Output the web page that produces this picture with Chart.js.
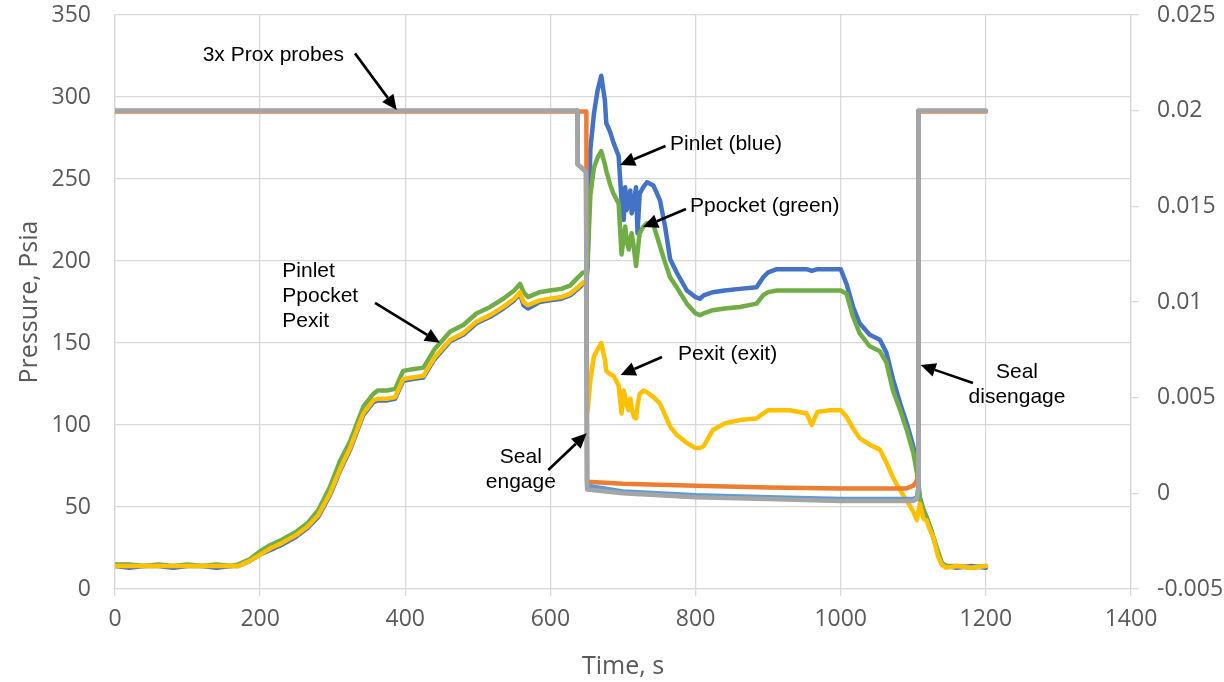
<!DOCTYPE html>
<html>
<head>
<meta charset="utf-8">
<script src="https://cdn.jsdelivr.net/npm/chart.js@4.4.1/dist/chart.umd.min.js"></script>
<style>
html,body{margin:0;padding:0;background:#fff;}
#wrap{width:1224px;height:682px;}
</style>
</head>
<body>
<div id="wrap"><canvas id="c" width="1224" height="682"></canvas></div>
<script>
// ---------- Pressure data (left axis, psia) ----------
const pTime = [0,20,40,60,80,100,120,140,160,170,185,200,215,230,250,265,280,296,310,324,342,356,362,375,386,392,397,410,425,440,462,480,498,517,535,550,558,563,569,585,599,615,627,638,645,649,
651,655,660,665,670,675,677,682,687,694,698,701,703,705,708,710,712,715,718,720,723,728,733,742,751,758,765,774,788,800,806,811,824,840,861,884,893,900,912,930,953,960,968,985,1000,1008,1017,1026,1040,1054,1063,1072,1082,1091,1100,1105,1109,1114,1118,1123,1128,1134,1139,1145,1160,1180,1200];

const pinlet = [14,13,14,14,13,14,14,13,14,14,17,21,24,27,32,37,44,57,72,85,106,114,115,115,116,122,127,128,129,140,151,155,162,166,171,176,180,173,171,175,176,177,179,183,186,186,
195,268,290,304,313,298,284,279,272,264,237,225,245,231,238,243,229,236,245,217,241,245,248,246,237,221,201,193,182,178,177,179,181,182,183,184,190,193,195,195,195,194,195,195,195,186,172,162,155,152,144,128,113,101,87,74,56,48,44,38,31,22,16,14,13,14,13];

const ppocket = [15,15,14,15,14,15,14,15,14,15,18,23,27,30,35,40,48,62,78,90,111,119,121,121,122,128,133,134,135,146,157,161,168,172,177,182,186,181,178,181,182,183,185,190,193,193,
196,240,257,263,267,259,255,247,241,235,204,215,221,212,207,214,217,208,197,205,217,221,223,222,209,199,190,184,174,168,167,168,170,171,172,174,179,181,182,182,182,182,182,182,182,180,166,156,148,145,138,121,109,97,83,71,55,48,44,38,31,23,16,14,14,13,14];

const pexit = [14,14,14,14,14,14,14,14,14,14,17,21,25,28,33,38,45,58,73,86,107,115,116,116,117,123,128,129,130,141,152,156,163,167,172,177,181,175,173,176,177,178,180,184,187,187,
108,127,142,146,150,140,133,131,130,124,107,121,117,112,109,116,110,105,104,112,119,121,120,117,113,106,99,94,89,86,86,87,97,101,103,104,107,109,109,109,107,100,108,109,109,105,98,92,88,85,77,68,60,54,47,42,52,43,42,36,31,20,15,13,14,13,14];

// ---------- Proximity probe data (right axis) ----------
const greyT  = [0,637,637.5,649,650.5,700,800,900,1000,1100,1105,1106.5,1107,1200];
const greyV  = [0.02,0.02,0.0172,0.0168,0.0002,0.0000,-0.0002,-0.0003,-0.0004,-0.0004,-0.0003,0.0001,0.02,0.02];
const lblueT = [0,637,637.5,649,650.5,700,800,900,1000,1100,1105,1106.5,1107,1200];
const lblueV = [0.02,0.02,0.0172,0.0168,0.0004,0.0001,-0.0001,-0.0002,-0.0003,-0.0003,-0.0002,0.0002,0.02,0.02];
const orangeT = [0,649.5,650.5,700,800,900,1000,1090,1100,1104,1106.5,1107,1200];
const orangeV = [0.01995,0.01995,0.0006,0.0005,0.0004,0.0003,0.00025,0.00025,0.0004,0.0006,0.0009,0.01995,0.01995];

// ---------- Axis ticks ----------
const xTicks = {min:0, max:1400, step:200};
const yTicks = {min:0, max:350, step:50};
const y2Ticks = {min:-0.005, max:0.025, step:0.005};

// ---------- Annotations (data units: time, psia) ----------
const annoText  = ["3x Prox probes","Pinlet (blue)","Ppocket (green)","Pexit (exit)","Seal","disengage","Seal","engage","Pinlet","Ppocket","Pexit"];
const annoX     = [120.8,764.8,792.3,775.8,1242.9,1242.9,559.2,559.2,230.5,230.5,230.5];
const annoY     = [322.1,267.7,230.1,139.6,128.8,113.4,76.8,61.6,190.4,175.2,159.6];
const annoAlign = ["left","left","left","left","center","center","center","center","left","left","left"];
const arrowFrom = [[330.7,326.6],[758.5,270.1],[786.7,231.7],[753.7,141.5],[1182.2,125.6],[597,72.6],[358.3,174.4]];
const arrowTo   = [[388.2,292.1],[695.9,258.5],[727.6,220.7],[696.7,130.5],[1110.2,136.6],[650,94.9],[447.8,150.2]];

const toXY = (ts, vs) => ts.map((t, i) => ({x: t, y: vs[i]}));

const annoPlugin = {
  id: 'annos',
  afterDatasetsDraw(chart) {
    const ctx = chart.ctx, xs = chart.scales.x, ys = chart.scales.y;
    ctx.save();
    ctx.fillStyle = '#000';
    ctx.font = '21px "Liberation Sans", Arial, sans-serif';
    ctx.textBaseline = 'alphabetic';
    annoText.forEach((t, i) => {
      ctx.textAlign = annoAlign[i];
      ctx.fillText(t, xs.getPixelForValue(annoX[i]), ys.getPixelForValue(annoY[i]));
    });
    ctx.strokeStyle = '#000';
    ctx.lineWidth = 2.6;
    arrowFrom.forEach((f, i) => {
      const x1 = xs.getPixelForValue(f[0]), y1 = ys.getPixelForValue(f[1]);
      const x2 = xs.getPixelForValue(arrowTo[i][0]), y2 = ys.getPixelForValue(arrowTo[i][1]);
      const a = Math.atan2(y2 - y1, x2 - x1);
      const hl = 15, hw = 7;
      const bx = x2 - hl * Math.cos(a), by = y2 - hl * Math.sin(a);
      ctx.beginPath(); ctx.moveTo(x1, y1); ctx.lineTo(bx, by); ctx.stroke();
      ctx.beginPath();
      ctx.moveTo(x2, y2);
      ctx.lineTo(bx + hw * Math.sin(a), by - hw * Math.cos(a));
      ctx.lineTo(bx - hw * Math.sin(a), by + hw * Math.cos(a));
      ctx.closePath(); ctx.fill();
    });
    ctx.restore();
  }
};

const gridCol = '#d9d9d9', tickCol = '#595959';
const tickFont = {family: '"Open Sans", sans-serif', size: 23};
const titleFont = {family: '"Open Sans", sans-serif', size: 25};

const line = (data, color, axis) => ({
  data, borderColor: color, backgroundColor: color, borderWidth: 4.5,
  pointRadius: 0, tension: 0, fill: false, yAxisID: axis, borderJoinStyle: 'round', borderCapStyle: 'round'
});

const noPad = s => { s.paddingTop = 0; s.paddingBottom = 0; s.paddingLeft = 0; s.paddingRight = 0; };

new Chart(document.getElementById('c'), {
  type: 'line',
  data: {
    datasets: [
      line(toXY(greyT, greyV), '#A5A5A5', 'y2'),
      line(toXY(lblueT, lblueV), '#5B9BD5', 'y2'),
      line(toXY(orangeT, orangeV), '#ED7D31', 'y2'),
      line(toXY(pTime, pexit), '#FFC000', 'y'),
      line(toXY(pTime, ppocket), '#70AD47', 'y'),
      line(toXY(pTime, pinlet), '#4472C4', 'y')
    ]
  },
  options: {
    responsive: false, animation: false, devicePixelRatio: 1,
    layout: {padding: {top: 15, left: 0, right: 0, bottom: 0}},
    plugins: {legend: {display: false}, tooltip: {enabled: false}},
    scales: {
      x: {
        type: 'linear', min: xTicks.min, max: xTicks.max,
        ticks: {stepSize: xTicks.step, color: tickCol, font: tickFont, padding: 10, maxRotation: 0,
          callback: v => String(v)},
        grid: {color: gridCol, lineWidth: 1.3, tickLength: 7, drawTicks: true},
        border: {color: gridCol, width: 1.3},
        title: {display: true, text: 'Time, s', color: tickCol, font: titleFont, padding: {top: 0, bottom: 0}},
        afterFit(s) { s.height = 93; noPad(s); }
      },
      y: {
        position: 'left', min: yTicks.min, max: yTicks.max,
        ticks: {stepSize: yTicks.step, color: tickCol, font: tickFont, padding: 24},
        grid: {color: gridCol, lineWidth: 1.3, drawTicks: false},
        border: {color: gridCol, width: 1.3},
        title: {display: true, text: 'Pressure, Psia', color: tickCol, font: titleFont, padding: {top: 15, bottom: 0}},
        afterFit(s) { s.width = 115; noPad(s); }
      },
      y2: {
        position: 'right', min: y2Ticks.min, max: y2Ticks.max,
        ticks: {stepSize: y2Ticks.step, color: tickCol, font: tickFont, padding: 18,
          callback: v => String(Number(v.toFixed(4)))},
        grid: {color: gridCol, lineWidth: 1.3, drawOnChartArea: false, drawTicks: true, tickLength: 8},
        border: {color: gridCol, width: 1.3},
        afterFit(s) { s.width = 93; noPad(s); }
      }
    }
  },
  plugins: [annoPlugin]
});
</script>
</body>
</html>
